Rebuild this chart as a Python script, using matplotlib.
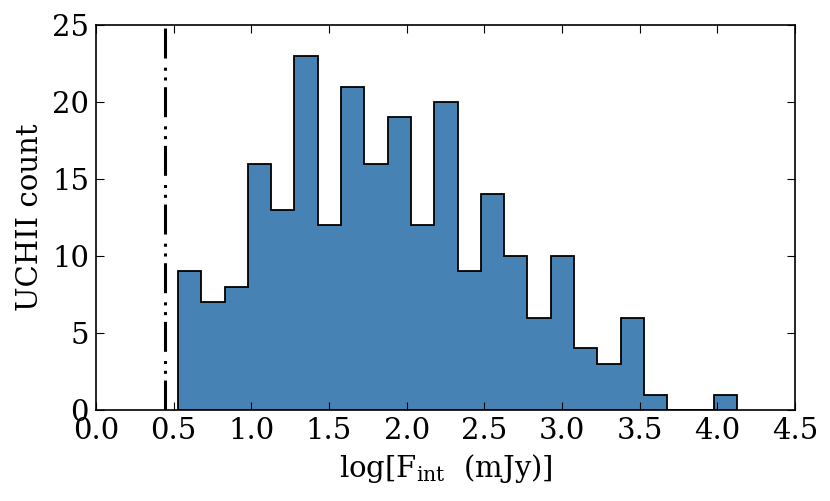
import numpy as np
import matplotlib
matplotlib.use("Agg")
import matplotlib.pyplot as plt

plt.rcParams['font.family'] = 'DejaVu Serif'
plt.rcParams['mathtext.fontset'] = 'dejavuserif'

# histogram counts per bin
counts = [9, 7, 8, 16, 13, 23, 12, 21, 16, 19, 12, 20,
          9, 14, 10, 6, 10, 4, 3, 6, 1, 0, 0, 1]
bin_lo = 0.528
bin_hi = 4.127
limit = 0.447   # sensitivity limit, dash-dot line

edges = np.linspace(bin_lo, bin_hi, len(counts) + 1)
centers = 0.5 * (edges[:-1] + edges[1:])

fig = plt.figure(figsize=(8.3, 5.01), dpi=100)
ax = fig.add_axes([96 / 830, 1 - 410 / 501, (795 - 96) / 830, (410 - 25) / 501])

ax.hist(centers, bins=edges, weights=counts, histtype='stepfilled',
        facecolor='#4682B4', edgecolor='black', linewidth=1.3)
ax.axvline(limit, color='black', linewidth=2.2,
           linestyle=(0, (9.8, 2.2, 1.0, 2.2, 1.0, 3.0)))

ax.set_xlim(0, 4.5)
ax.set_ylim(0, 25)
ax.set_xticks(np.arange(0, 4.51, 0.5))
ax.set_yticks(np.arange(0, 26, 5))
ax.tick_params(direction='in', top=True, right=True, labelsize=21,
               length=5.5, width=0.8, pad=5)
for s in ax.spines.values():
    s.set_linewidth(1.2)

ax.set_xlabel(r'$\log[\mathrm{F_{int}}\ \ (\mathrm{mJy})]$', fontsize=21, labelpad=5)
ax.set_ylabel('UCHII count', fontsize=21, labelpad=6)

fig.savefig('out.png', dpi=100)
